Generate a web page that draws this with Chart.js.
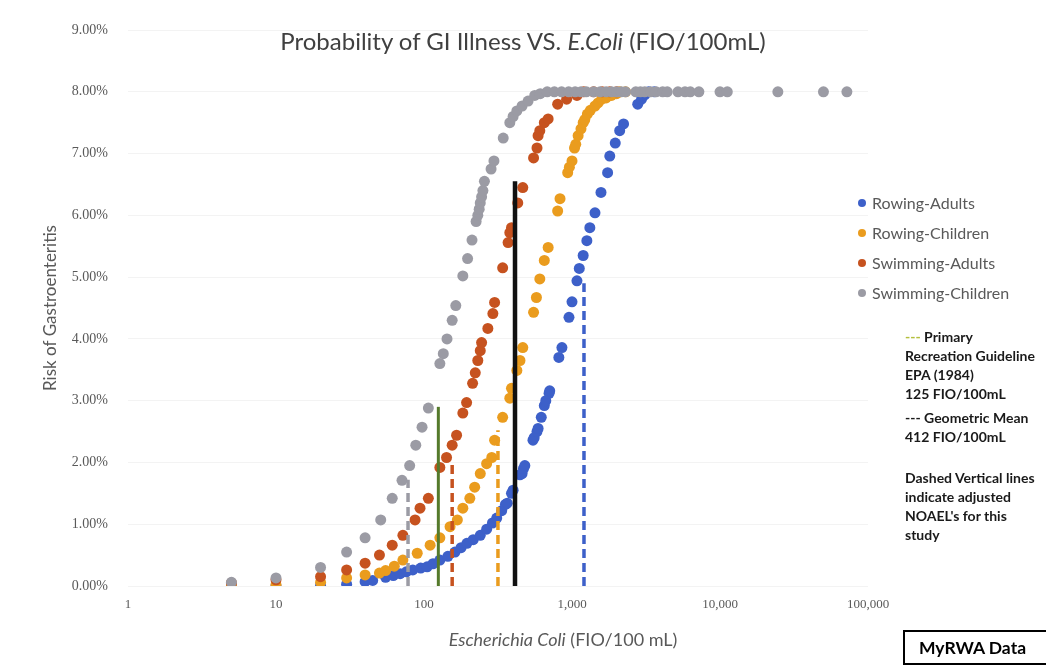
<!DOCTYPE html>
<html>
<head>
<meta charset="utf-8">
<title>Probability of GI Illness VS. E.Coli</title>
<script src="https://cdn.jsdelivr.net/npm/chart.js@4.4.1/dist/chart.umd.min.js"></script>
<style>
  html, body { margin: 0; padding: 0; background: #ffffff; }
  #wrap { position: relative; width: 1046px; height: 667px; overflow: hidden;
          font-family: Lato, "Open Sans", "DejaVu Sans", sans-serif; }
  #chart { position: absolute; left: 0; top: 0; }
  .title { position: absolute; left: 0; top: 26px; width: 1046px; text-align: center;
           font-size: 24px; color: #404040; }
  .xtitle { position: absolute; left: 363px; top: 628px; width: 400px; text-align: center;
            font-size: 18px; color: #595959; }
  .legend { position: absolute; left: 856px; top: 191px; }
  .legend .item { position: relative; height: 30px; font-size: 16px; color: #595959; white-space: nowrap; }
  .legend .dot { position: absolute; left: 2px; top: 8px; width: 8px; height: 8px; border-radius: 50%; }
  .legend .txt { position: absolute; left: 16px; top: 0; line-height: 24px; }
  .note { position: absolute; left: 905px; font-size: 14px; font-weight: bold; color: #1a1a1a;
          line-height: 19px; white-space: nowrap; }
  .badge { position: absolute; left: 903px; top: 630px; width: 150px; height: 35px;
           border: 2px solid #000; box-sizing: border-box; font-weight: bold; font-size: 17.5px;
           color: #000; line-height: 31px; padding-left: 14px; }
</style>
</head>
<body>
<div id="wrap">
  <canvas id="chart" width="1046" height="667"></canvas>
  <div class="title">Probability of GI Illness VS. <i>E.Coli</i> (FIO/100mL)</div>
  <div class="xtitle"><i>Escherichia Coli</i> (FIO/100 mL)</div>
  <div class="legend" id="legend"></div>
  <div class="note" style="top:327px"><span style="color:#b3bf3c">---</span> Primary<br>Recreation Guideline<br>EPA (1984)<br>125 FIO/100mL</div>
  <div class="note" style="top:408px">--- Geometric Mean<br>412 FIO/100mL</div>
  <div class="note" style="top:468px">Dashed Vertical lines<br>indicate adjusted<br>NOAEL's for this<br>study</div>
  <div class="badge">MyRWA Data</div>
</div>
<script>
// E. coli concentration (FIO/100 mL) and modelled risk of GI illness (%)
const seriesNames  = ['Rowing-Adults', 'Rowing-Children', 'Swimming-Adults', 'Swimming-Children'];
const seriesColors = ['#3d60c9', '#ea9c1e', '#c6521f', '#9b9ba4'];

const rowAdultsX = [5, 10, 20, 30, 40, 45, 55, 62, 69, 76, 84, 95, 105, 115, 128, 145, 162, 178, 195, 215,
  240, 265, 290, 310, 335, 355, 365, 390, 400, 445, 460, 470, 480, 545, 555, 580, 590, 620, 650, 665,
  700, 707, 815, 855, 954, 1000, 1080, 1120, 1190, 1260, 1320, 1430, 1570, 1740, 1800, 1960, 2100,
  2230, 2780, 2950, 3100, 3300, 3600];
const rowAdultsY = [0.00, 0.00, 0.01, 0.03, 0.07, 0.09, 0.14, 0.17, 0.20, 0.23, 0.26, 0.29, 0.31, 0.36,
  0.42, 0.48, 0.55, 0.62, 0.69, 0.75, 0.82, 0.92, 1.02, 1.10, 1.22, 1.32, 1.34, 1.50, 1.55, 1.80, 1.82,
  1.90, 1.95, 2.36, 2.40, 2.50, 2.55, 2.73, 2.92, 3.00, 3.12, 3.16, 3.70, 3.86, 4.35, 4.60, 4.94, 5.14,
  5.35, 5.59, 5.80, 6.04, 6.37, 6.69, 6.96, 7.17, 7.37, 7.48, 7.80, 7.88, 7.95, 8.00, 8.00];

const rowChildX = [5, 10, 20, 30, 40, 50, 55, 63, 72, 90, 110, 128, 150, 168, 183, 204, 220, 240, 265,
  287, 300, 340, 380, 390, 424, 445, 465, 550, 575, 606, 650, 690, 800, 830, 935, 960, 1000, 1040,
  1060, 1100, 1150, 1190, 1220, 1270, 1330, 1430, 1500, 1590, 1700, 1850, 2000, 2100, 2300];
const rowChildY = [0.00, 0.02, 0.06, 0.13, 0.18, 0.21, 0.25, 0.32, 0.42, 0.53, 0.66, 0.78, 0.96, 1.07,
  1.26, 1.42, 1.60, 1.82, 1.98, 2.08, 2.36, 2.73, 3.04, 3.20, 3.49, 3.65, 3.86, 4.43, 4.67, 4.97, 5.27,
  5.48, 6.07, 6.27, 6.69, 6.78, 6.88, 7.09, 7.15, 7.29, 7.40, 7.50, 7.55, 7.64, 7.70, 7.77, 7.82, 7.88,
  7.90, 7.94, 7.97, 8.00, 8.00];

const swimAdultsX = [5, 10, 20, 30, 40, 50, 61, 72, 87, 94, 107, 128, 142, 155, 166, 183, 194, 213, 222,
  231, 240, 245, 270, 292, 300, 340, 370, 380, 390, 430, 465, 550, 580, 590, 606, 650, 690, 800, 920,
  1080, 1200, 1400, 1600, 1800, 2000];
const swimAdultsY = [0.05, 0.10, 0.15, 0.26, 0.37, 0.50, 0.66, 0.82, 1.07, 1.26, 1.42, 1.92, 2.08, 2.28,
  2.44, 2.80, 2.97, 3.28, 3.45, 3.65, 3.81, 3.94, 4.17, 4.41, 4.59, 5.15, 5.56, 5.72, 5.80, 6.20, 6.45,
  6.93, 7.09, 7.29, 7.37, 7.50, 7.56, 7.80, 7.88, 7.94, 8.00, 8.00, 8.00, 8.00, 8.00];

const swimChildX = [5, 10, 20, 30, 40, 51, 61, 71, 80, 88, 97, 107, 128, 135, 143, 155, 164, 183, 197, 211,
  225, 231, 236, 240, 245, 250, 256, 284, 297, 343, 380, 400, 424, 460, 505, 560, 610, 680, 760, 850,
  950, 1050, 1150, 1250, 1400, 1550, 1700, 1850, 2000, 2150, 2300, 2700, 2900, 3100, 3400, 3700, 4100,
  4400, 5200, 5800, 6300, 7200, 10000, 11200, 24600, 50000, 72000];
const swimChildY = [0.06, 0.13, 0.30, 0.55, 0.78, 1.07, 1.42, 1.71, 1.95, 2.28, 2.57, 2.88, 3.60, 3.76,
  4.00, 4.30, 4.54, 5.02, 5.30, 5.60, 5.90, 6.00, 6.10, 6.20, 6.30, 6.40, 6.55, 6.75, 6.88, 7.25, 7.50,
  7.60, 7.69, 7.77, 7.85, 7.94, 7.97, 8.00, 8.00, 8.00, 8.00, 8.00, 8.00, 8.00, 8.00, 8.00, 8.00, 8.00,
  8.00, 8.00, 8.00, 8.00, 8.00, 8.00, 8.00, 8.00, 8.00, 8.00, 8.00, 8.00, 8.00, 8.00, 8.00, 8.00, 8.00,
  8.00, 8.00];

// Reference lines: guideline (solid green), geometric mean (solid black), adjusted NOAELs (dashed)
const guidelineX = 125, guidelineTop = 2.9;
const geoMeanX = 412, geoMeanTop = 6.55;
const noaelX   = [1205, 316, 155, 78];      // same order as seriesNames
const noaelTop = [4.9, 2.52, 2.0, 1.72];

const xTicks = [1, 10, 100, 1000, 10000, 100000];
const yMax = 9, yStep = 1;

const toPoints = (xs, ys) => xs.map((x, i) => ({ x, y: ys[i] }));
const seriesX = [rowAdultsX, rowChildX, swimAdultsX, swimChildX];
const seriesY = [rowAdultsY, rowChildY, swimAdultsY, swimChildY];

const datasets = [];
seriesNames.forEach((name, i) => {
  datasets.push({
    label: name,
    data: toPoints(seriesX[i], seriesY[i]),
    backgroundColor: seriesColors[i],
    borderColor: seriesColors[i],
    borderWidth: 0,
    pointRadius: 5.5,
    order: 10 - i            // later series sit on top
  });
});

function vline(x, top, color, width, dash, order) {
  return {
    label: '', data: [{ x, y: 0 }, { x, y: top }], showLine: true,
    borderColor: color, borderWidth: width, borderDash: dash, pointRadius: 0,
    backgroundColor: color, order
  };
}
noaelX.forEach((x, i) => datasets.push(vline(x, noaelTop[i], seriesColors[i], 3.5, [9, 5], 2)));
datasets.push(vline(guidelineX, guidelineTop, '#557a2b', 3, [], 1));
datasets.push(vline(geoMeanX, geoMeanTop, '#111111', 4.5, [], 0));

// legend built from the series definitions
const legendEl = document.getElementById('legend');
seriesNames.forEach((name, i) => {
  const it = document.createElement('div');
  it.className = 'item';
  it.innerHTML = '<span class="dot" style="background:' + seriesColors[i] + '"></span><span class="txt">' + name + '</span>';
  legendEl.appendChild(it);
});

new Chart(document.getElementById('chart'), {
  type: 'scatter',
  data: { datasets },
  options: {
    responsive: false,
    animation: false,
    layout: { padding: { left: 0, right: 178, top: 30, bottom: 0 } },
    plugins: { legend: { display: false }, tooltip: { enabled: false } },
    scales: {
      x: {
        type: 'logarithmic', min: xTicks[0], max: xTicks[xTicks.length - 1],
        afterBuildTicks: (s) => { s.ticks = xTicks.map(v => ({ value: v })); },
        afterFit: (s) => { s.height = 81; },
        ticks: {
          autoSkip: false, maxRotation: 0, padding: 11, color: '#595959',
          font: { family: '"Liberation Serif", serif', size: 13 },
          callback: (v) => Number(v).toLocaleString('en-US')
        },
        grid: { display: false, drawTicks: false },
        border: { display: false }
      },
      y: {
        min: 0, max: yMax,
        afterFit: (s) => { s.width = 128; },
        ticks: {
          stepSize: yStep, padding: 20, color: '#595959',
          font: { family: '"Liberation Serif", serif', size: 14 },
          callback: (v) => Number(v).toFixed(2) + '%'
        },
        grid: { color: '#f3f3f3', drawTicks: false },
        border: { display: false },
        title: {
          display: true, text: 'Risk of Gastroenteritis', color: '#595959',
          font: { family: 'Lato, "Open Sans", sans-serif', size: 17 },
          padding: { top: 40, bottom: 0 }
        }
      }
    }
  }
});
</script>
</body>
</html>
